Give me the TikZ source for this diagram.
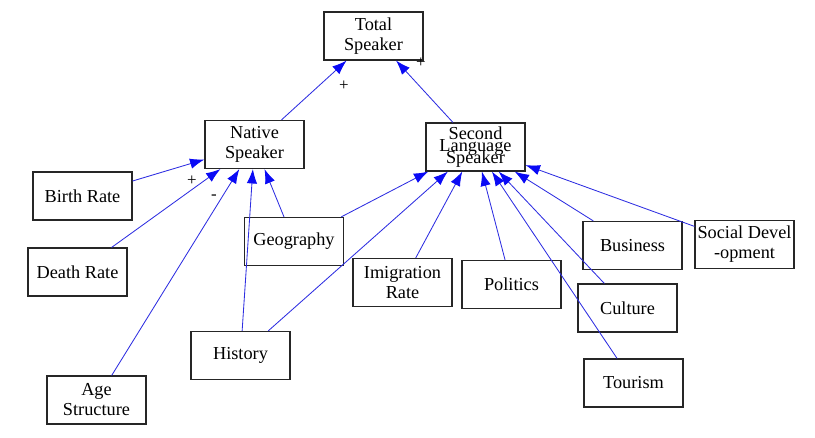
\documentclass[tikz,border=0pt]{standalone}
\usepackage{fontspec}
\setmainfont{Liberation Serif}
\usetikzlibrary{arrows.meta}
\definecolor{linkblue}{RGB}{45,45,225}
\definecolor{tipblue}{RGB}{10,10,245}
\newcommand{\boxw}{2.475cm}
\newcommand{\boxh}{1.2cm}
\newcommand{\tightlines}{\fontsize{13}{8.3}\selectfont\lineskiplimit=-20pt\relax}

\begin{document}
\begin{tikzpicture}[x=0.025cm,y=-0.025cm,
    factor/.style={draw=black!85, line width=.8pt, minimum width=\boxw, minimum height=\boxh,
      inner sep=1pt, align=center, font=\fontsize{13}{14.2}\selectfont},
    link/.style={draw=linkblue, line width=.6pt, -{Latex[length=3.6mm,width=2.6mm,color=tipblue]}},
    sign/.style={font=\fontsize{12}{12}\selectfont, inner sep=0pt}]
    \useasboundingbox (0,0) rectangle (815,438);

        \node (total) at (373.5,36) [factor] {Total\\Speaker};
        \node (native) at (254.5,144.5) [factor] {Native\\Speaker};
        \node (second) at (475.5,147) [factor, font=\tightlines] {Second\\Language\\Speaker};
        \node (birth) at (82.5,196) [factor] {Birth Rate};
        \node (death) at (77.5,272) [factor] {Death Rate};
        \node (age) at (96.5,400) [factor] {Age\\Structure};
        \node (history) at (240.5,355.5) [factor] {History};
        \node (geo) at (294,241.5) [factor] {Geography};
        \node (imig) at (402.5,282.5) [factor] {Imigration\\Rate};
        \node (politics) at (511.5,284.5) [factor] {Politics};
        \node (business) at (632.5,245.5) [factor] {Business};
        \node (culture) at (627.5,308) [factor] {Culture};
        \node (tourism) at (633.5,383) [factor] {Tourism};
        \node (social) at (744.5,244.5) [factor] {Social Devel\\-opment};

        % links to total
        \draw[link] (native) -- (total);
        \draw[link] (second) -- (total);

        % links to native speaker
        \draw[link] (birth) -- (native);
        \draw[link] (death) -- (native);
        \draw[link] (age) -- (native);
        \draw[link] (history) -- (native);
        \draw[link] (geo) -- (native);

        % links to second language speaker
        \draw[link] (geo) -- (second);
        \draw[link] (history) -- (second);
        \draw[link] (imig) -- (second);
        \draw[link] (politics) -- (second);
        \draw[link] (tourism) -- (second);
        \draw[link] (culture) -- (second);
        \draw[link] (business) -- (second);
        \draw[link] (social) -- (second);

            \node (sgnA) at (344,86) [sign] {+};
            \node (sgnB) at (421,63) [sign] {+};
            \node (sgnC) at (192,181) [sign] {+};
            \node (sgnD) at (214,197) [sign] {-};
\end{tikzpicture}
\end{document}
